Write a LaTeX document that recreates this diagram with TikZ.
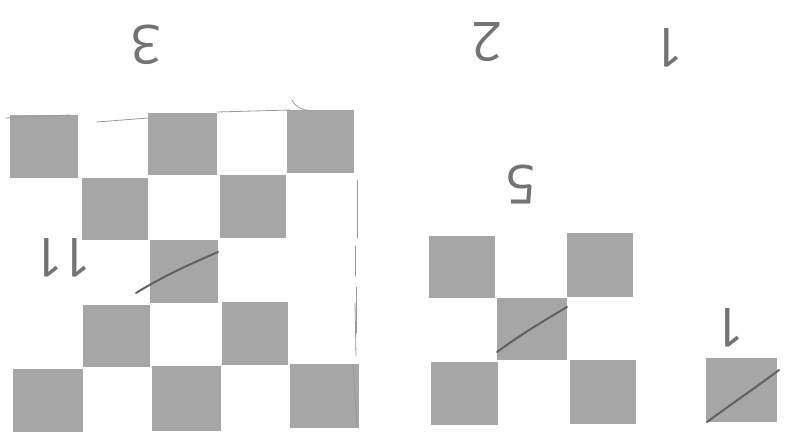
\documentclass[tikz,border=0pt]{standalone}
\usepackage{fontspec}
\setmainfont{Open Sans}
\begin{document}
\begin{tikzpicture}[x=1pt,y=-1pt,
  sq/.style={fill=black!35,draw=none},
  pen/.style={draw=black!62,line width=2pt,line cap=round},
  faint/.style={draw=black!40,line width=0.8pt,line cap=round},
  hand/.style={text=black!55,font=\fontsize{54}{54}\selectfont\rmfamily,inner sep=0pt,rotate=180}]
\useasboundingbox[fill=white] (0,0) rectangle (786,436);
% large pattern (5x5)
\path[sq] (10,115) rectangle (78,178);
\path[sq] (148,113) rectangle (217,175);
\path[sq] (287,110) rectangle (354,173);
\path[sq] (82,178) rectangle (148,240);
\path[sq] (220,175) rectangle (286,238);
\path[sq] (150,240) rectangle (218,303);
\path[sq] (83,305) rectangle (150,367);
\path[sq] (222,302) rectangle (288,365);
\path[sq] (13,369) rectangle (83,432);
\path[sq] (152,366) rectangle (221,431);
\path[sq] (290,364) rectangle (359,428);
% middle pattern (3x3)
\path[sq] (429,236) rectangle (495,298);
\path[sq] (567,233) rectangle (633,297);
\path[sq] (497,298) rectangle (567,360);
\path[sq] (431,362) rectangle (498,425);
\path[sq] (570,360) rectangle (636,424);
% single square
\path[sq] (706,358) rectangle (777,422);
% pen strokes
\draw[pen] (136,293) .. controls (165,275) and (195,262) .. (218,252);
\draw[pen] (497,352) .. controls (520,335) and (545,320) .. (567,307);
\draw[pen] (707,422) .. controls (730,405) and (755,388) .. (779,370);
% faint marks around the large pattern
\draw[faint] (6,118) -- (70,115);
\draw[faint] (97,122) -- (148,118);
\draw[faint] (217,112) -- (290,110);
\draw[faint] (292,100) .. controls (296,108) and (303,110) .. (312,111);
\draw[faint] (357,180) -- (357,238);
\draw[faint] (355,246) -- (355,276);
\draw[faint] (356,287) -- (356,333);
\draw[faint] (355,303) -- (356,356);
\draw[faint] (353,365) -- (357,425);
% handwritten numbers (upside down)
\node[hand] (n3) at (146,45) {3};
\node[hand] (n2) at (487,42) {2};
\node[hand] (n1) at (668,48) {1};
\node[hand] (n5) at (521,185) {5};
\node[hand] (n1b) at (729,328) {1};
\node[hand] (n11) at (62,258) {1\hspace{-3pt}1};
\end{tikzpicture}
\end{document}
